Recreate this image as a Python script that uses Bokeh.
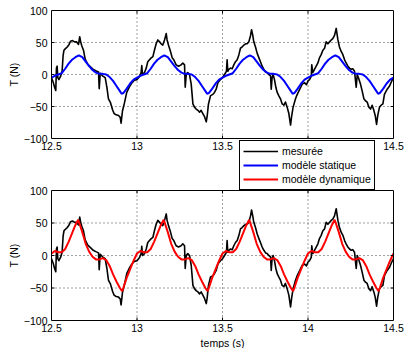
import math
from bokeh.plotting import figure
from bokeh.models import Range1d, Legend, LegendItem
from bokeh.core.properties import value
from bokeh.embed import file_html
from bokeh.resources import INLINE

FONT = "Liberation Sans"
FS = "10.5px"

x_ticks = [12.5, 13, 13.5, 14, 14.5]
x_tick_labels = ["12.5", "13", "13.5", "14", "14.5"]
y_ticks = [-100, -50, 0, 50, 100]
y_tick_labels = ["\u2212100", "\u221250", "0", "50", "100"]
y_title = "T (N)"
x_title = "temps (s)"

t_meas = [
    12.500, 12.510, 12.518, 12.525, 12.529, 12.533, 12.537, 12.543, 12.553, 12.562, 12.568, 12.573,
    12.580, 12.592, 12.603, 12.611, 12.623, 12.635, 12.646, 12.658, 12.665, 12.670, 12.677, 12.687,
    12.697, 12.712, 12.728, 12.744, 12.759, 12.775, 12.779, 12.785, 12.798, 12.814, 12.824, 12.833,
    12.845, 12.857, 12.866, 12.878, 12.892, 12.902, 12.907, 12.915, 12.927, 12.940, 12.954, 12.970,
    12.985,
    13.000, 13.015, 13.024, 13.028, 13.032, 13.044, 13.054, 13.063, 13.073, 13.083, 13.093, 13.102,
    13.112, 13.122, 13.132, 13.141, 13.151, 13.161, 13.171, 13.176, 13.184, 13.196, 13.206, 13.215,
    13.229, 13.243, 13.258, 13.268, 13.278, 13.282, 13.288, 13.297, 13.307, 13.317, 13.327, 13.336,
    13.346, 13.356, 13.366, 13.375, 13.385, 13.395, 13.405, 13.410, 13.418, 13.430, 13.444, 13.453,
    13.463, 13.473, 13.488,
    13.500, 13.512, 13.523, 13.527, 13.531, 13.537, 13.547, 13.557, 13.566, 13.576, 13.586, 13.596,
    13.605, 13.615, 13.625, 13.635, 13.644, 13.654, 13.664, 13.670, 13.677, 13.683, 13.693, 13.703,
    13.713, 13.722, 13.732, 13.742, 13.752, 13.761, 13.771, 13.781, 13.785, 13.790, 13.796, 13.804,
    13.812, 13.820, 13.829, 13.839, 13.849, 13.859, 13.868, 13.878, 13.888, 13.898, 13.904, 13.913,
    13.927, 13.937, 13.952, 13.966, 13.980, 13.991,
    14.000, 14.009, 14.019, 14.022, 14.028, 14.038, 14.048, 14.058, 14.067, 14.077, 14.087, 14.097,
    14.106, 14.116, 14.126, 14.136, 14.145, 14.155, 14.165, 14.171, 14.175, 14.184, 14.194, 14.204,
    14.214, 14.223, 14.233, 14.243, 14.253, 14.262, 14.272, 14.282, 14.288, 14.295, 14.307, 14.317,
    14.327, 14.336, 14.346, 14.356, 14.366, 14.375, 14.385, 14.393, 14.401, 14.408, 14.418, 14.428,
    14.438, 14.447, 14.463, 14.477, 14.490, 14.500,
]
v_meas = [
    -5, -12, -20, -25, 10, 13, -5, -8, -3, 5, 30, 38,
    40, 43, 47, 52, 53, 51, 51, 47, 59, 52, 45, 38,
    24, 16, 12, 8, 6, 4, -22, 2, -2, -5, -20, -38,
    -44, -55, -61, -63, -64, -67, -76, -57, -44, -28, -20, -13,
    -9,
    -8, -3, 3, 14, 0, 3, 10, 20, 23, 26, 28, 38,
    48, 54, 51, 48, 46, 54, 64, 54, 46, 36, 26, 23,
    15, 13, 15, 18, 15, -20, 0, 3, 0, -15, -46, -51,
    -54, -56, -59, -56, -61, -66, -74, -66, -46, -33, -31, -28,
    -23, -13, -8,
    -5, 0, 5, 23, 5, 8, 10, 9, 15, 20, 23, 31,
    41, 43, 46, 48, 48, 51, 61, 70, 61, 51, 43, 33,
    26, 20, 13, 8, 4, 3, 0, -2, -23, -5, 0, -8,
    -20, -28, -33, -38, -46, -48, -43, -51, -61, -79, -66, -51,
    -38, -31, -23, -15, -13, -16,
    -10, -8, -3, 15, 3, 8, 13, 18, 26, 31, 38, 41,
    51, 48, 51, 54, 56, 61, 72, 61, 54, 43, 36, 31,
    23, 18, 13, 10, 8, 9, 5, -20, 0, -5, -15, -26,
    -38, -41, -43, -51, -54, -48, -56, -64, -78, -64, -51, -48,
    -46, -31, -23, -18, -10, -5,
]

# static model (blue)
t_stat = [
    12.50, 12.52, 12.54, 12.56, 12.58, 12.60, 12.62, 12.64, 12.66, 12.68, 12.70, 12.72, 12.74,
    12.76, 12.78, 12.80, 12.82, 12.84, 12.86, 12.88, 12.90, 12.91, 12.92, 12.94, 12.96, 12.98,
    13.00, 13.02, 13.04, 13.06, 13.08, 13.10, 13.12, 13.14, 13.16, 13.18, 13.20, 13.22, 13.24,
    13.26, 13.28, 13.30, 13.32, 13.34, 13.36, 13.38, 13.40, 13.41, 13.42, 13.44, 13.46, 13.48,
    13.50, 13.52, 13.54, 13.56, 13.58, 13.60, 13.62, 13.64, 13.66, 13.68, 13.70, 13.72, 13.74,
    13.76, 13.78, 13.80, 13.82, 13.84, 13.86, 13.88, 13.90, 13.91, 13.92, 13.94, 13.96, 13.98,
    14.00, 14.02, 14.04, 14.06, 14.08, 14.10, 14.12, 14.14, 14.16, 14.18, 14.20, 14.22, 14.24,
    14.26, 14.28, 14.30, 14.32, 14.34, 14.36, 14.38, 14.40, 14.41, 14.42, 14.44, 14.46, 14.48,
    14.50,
]
v_stat = [
    -5, -2, 0, 2, 9, 17, 23, 27, 30, 27, 20, 13, 7,
    3, 1, 1, 0, -4, -10, -18, -26, -30, -29, -22, -14, -8,
    -5, -2, 0, 2, 9, 17, 23, 27, 30, 27, 20, 13, 7,
    3, 1, 1, 0, -4, -10, -18, -26, -30, -29, -22, -14, -8,
    -5, -2, 0, 2, 9, 17, 23, 27, 30, 27, 20, 13, 7,
    3, 1, 1, 0, -4, -10, -18, -26, -30, -29, -22, -14, -8,
    -5, -2, 0, 2, 9, 17, 23, 27, 30, 27, 20, 13, 7,
    3, 1, 1, 0, -4, -10, -18, -26, -30, -29, -22, -14, -8,
    -5,
]

# dynamic model (red)
t_dyn = [
    12.500, 12.520, 12.540, 12.560, 12.580, 12.600, 12.620, 12.640, 12.656, 12.670, 12.680, 12.700,
    12.720, 12.740, 12.760, 12.780, 12.800, 12.820, 12.840, 12.860, 12.880, 12.900, 12.913, 12.920,
    12.940, 12.960, 12.980,
    13.000, 13.020, 13.040, 13.060, 13.080, 13.100, 13.120, 13.140, 13.156, 13.170, 13.180, 13.200,
    13.220, 13.240, 13.260, 13.280, 13.300, 13.320, 13.340, 13.360, 13.380, 13.400, 13.413, 13.420,
    13.440, 13.460, 13.480,
    13.500, 13.520, 13.540, 13.560, 13.580, 13.600, 13.620, 13.640, 13.656, 13.670, 13.680, 13.700,
    13.720, 13.740, 13.760, 13.780, 13.800, 13.820, 13.840, 13.860, 13.880, 13.900, 13.913, 13.920,
    13.940, 13.960, 13.980,
    14.000, 14.020, 14.040, 14.060, 14.080, 14.100, 14.120, 14.140, 14.156, 14.170, 14.180, 14.200,
    14.220, 14.240, 14.260, 14.280, 14.300, 14.320, 14.340, 14.360, 14.380, 14.400, 14.413, 14.420,
    14.440, 14.460, 14.480, 14.500,
]
v_dyn = [
    3, 7, 5, 5, 10, 21, 34, 47, 55, 44, 36, 18,
    6, -2, -6, -6, -4, -7, -16, -29, -40, -50, -55, -50,
    -34, -21, -8,
    3, 7, 5, 5, 10, 21, 34, 47, 55, 44, 36, 18,
    6, -2, -6, -6, -4, -7, -16, -29, -40, -50, -55, -50,
    -34, -21, -8,
    3, 7, 5, 5, 10, 21, 34, 47, 55, 44, 36, 18,
    6, -2, -6, -6, -4, -7, -16, -29, -40, -50, -55, -50,
    -34, -21, -8,
    3, 7, 5, 5, 10, 21, 34, 47, 55, 44, 36, 18,
    6, -2, -6, -6, -4, -7, -16, -29, -40, -50, -55, -50,
    -34, -21, -8, 3,
]

legend_labels = ["mesurée", "modèle statique", "modèle dynamique"]
c_meas, c_stat, c_dyn = "#000000", "#0000ff", "#ff0000"

# ---- layout (pixels on the canvas) ----
W, H = 404, 348
PX_L, PX_R = 51, 393
PANELS = {"top": (10, 138), "default": (190, 320)}

xmin, xmax = x_ticks[0], x_ticks[-1]
ymin, ymax = y_ticks[0], y_ticks[-1]
sx = (PX_R - PX_L) / (xmax - xmin)
x_range = Range1d(xmin - PX_L / sx, xmax + (W - PX_R) / sx)


def yrange(top_px, bot_px):
    s = (bot_px - top_px) / (ymax - ymin)
    return Range1d(ymin - (H - bot_px) / s, ymax + top_px / s), s


yr_bot, s_bot = yrange(*PANELS["default"])
yr_top, s_top = yrange(*PANELS["top"])
scales = {"default": s_bot, "top": s_top}

p = figure(width=W, height=H, output_backend="svg", toolbar_location=None,
           x_range=x_range, y_range=yr_bot, x_axis_type=None, y_axis_type=None,
           min_border=0)
p.extra_y_ranges = {"top": yr_top}
p.outline_line_color = None
p.xgrid.visible = False
p.ygrid.visible = False

inner_x = x_ticks[1:-1]
inner_y = y_ticks[1:-1]
tick_px = 3


def panel_background(rn):
    p.segment(x0=inner_x, x1=inner_x, y0=[ymin] * len(inner_x), y1=[ymax] * len(inner_x),
              line_color="black", line_alpha=0.75, line_width=1, line_dash="1 3", y_range_name=rn)
    p.segment(x0=[xmin] * len(inner_y), x1=[xmax] * len(inner_y), y0=inner_y, y1=inner_y,
              line_color="black", line_alpha=0.75, line_width=1, line_dash="1 3", y_range_name=rn)


def panel_frame(rn, show_x_labels):
    s = scales[rn]
    p.quad(left=[xmin], right=[xmax], bottom=[ymin], top=[ymax], fill_color=None,
           line_color="black", line_width=1, y_range_name=rn)
    dx = tick_px / sx
    dy = tick_px / s
    # inward ticks
    p.segment(x0=inner_x, x1=inner_x, y0=[ymin] * 3, y1=[ymin + dy] * 3, line_color="black", y_range_name=rn)
    p.segment(x0=inner_x, x1=inner_x, y0=[ymax] * 3, y1=[ymax - dy] * 3, line_color="black", y_range_name=rn)
    p.segment(x0=[xmin] * 3, x1=[xmin + dx] * 3, y0=inner_y, y1=inner_y, line_color="black", y_range_name=rn)
    p.segment(x0=[xmax] * 3, x1=[xmax - dx] * 3, y0=inner_y, y1=inner_y, line_color="black", y_range_name=rn)
    # y tick labels
    p.text(x=[xmin] * len(y_ticks), y=y_ticks, text=y_tick_labels, x_offset=-4,
           text_align="right", text_baseline="middle", text_font=value(FONT),
           text_font_size=FS, text_color="black", y_range_name=rn)
    # y title
    p.text(x=[xmin], y=[(ymin + ymax) / 2], text=[y_title], x_offset=-38, angle=math.pi / 2,
           text_align="center", text_baseline="middle", text_font=value(FONT),
           text_font_size=FS, text_color="black", y_range_name=rn)
    if show_x_labels:
        p.text(x=x_ticks, y=[ymin] * len(x_ticks), text=x_tick_labels, y_offset=3,
               text_align="center", text_baseline="top", text_font=value(FONT),
               text_font_size=FS, text_color="black", y_range_name=rn)


# top panel
panel_background("top")
r_meas = p.line(t_meas, v_meas, line_color=c_meas, line_width=1.6, line_join="round", y_range_name="top")
r_stat = p.line(t_stat, v_stat, line_color=c_stat, line_width=2, y_range_name="top")
panel_frame("top", True)

# bottom panel
panel_background("default")
p.line(t_meas, v_meas, line_color=c_meas, line_width=1.6, line_join="round")
r_dyn = p.line(t_dyn, v_dyn, line_color=c_dyn, line_width=2)
panel_frame("default", True)
p.text(x=[(xmin + xmax) / 2], y=[ymin], text=[x_title], y_offset=16,
       text_align="center", text_baseline="top", text_font=value(FONT),
       text_font_size=FS, text_color="black")

# legend between the panels
leg_left, leg_top, leg_h = 239, 142, 48
legend = Legend(items=[LegendItem(label=legend_labels[0], renderers=[r_meas]),
                       LegendItem(label=legend_labels[1], renderers=[r_stat]),
                       LegendItem(label=legend_labels[2], renderers=[r_dyn])],
                location=(leg_left, H - leg_top - leg_h))
legend.border_line_color = "black"
legend.border_line_alpha = 1
legend.border_line_width = 1
legend.background_fill_color = "white"
legend.background_fill_alpha = 1
legend.label_text_font = FONT
legend.label_text_font_size = FS
legend.label_text_color = "black"
legend.label_text_baseline = "middle"
legend.glyph_width = 35
legend.glyph_height = 14
legend.label_height = 14
legend.label_standoff = 4
legend.spacing = 0
legend.padding = 3
legend.margin = 0
p.add_layout(legend)

open("out.html", "w").write(file_html(p, INLINE))
